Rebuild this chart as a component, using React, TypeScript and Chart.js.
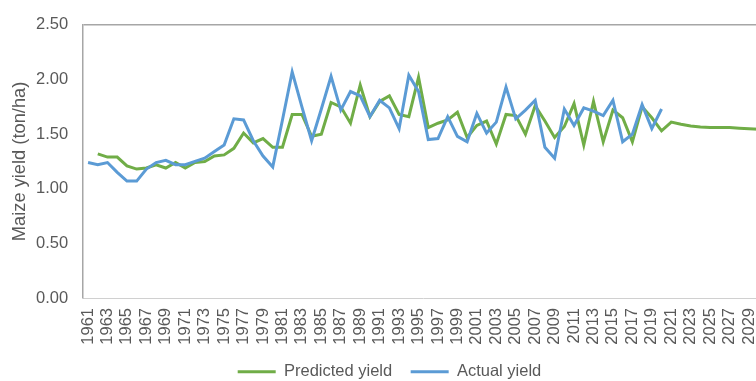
import React, { useEffect, useRef } from "react";
import { Chart, registerables } from "chart.js";

Chart.register(...registerables);

const years: string[] = [
  "1961","1962","1963","1964","1965","1966","1967","1968","1969","1970",
  "1971","1972","1973","1974","1975","1976","1977","1978","1979","1980",
  "1981","1982","1983","1984","1985","1986","1987","1988","1989","1990",
  "1991","1992","1993","1994","1995","1996","1997","1998","1999","2000",
  "2001","2002","2003","2004","2005","2006","2007","2008","2009","2010",
  "2011","2012","2013","2014","2015","2016","2017","2018","2019","2020",
  "2021","2022","2023","2024","2025","2026","2027","2028","2029","2030",
];

// 1961-2020
const actualYield: number[] = [
  1.24, 1.22, 1.24, 1.15, 1.07, 1.07, 1.18, 1.24, 1.26, 1.22,
  1.22, 1.25, 1.28, 1.34, 1.40, 1.64, 1.63, 1.44, 1.30, 1.20,
  1.63, 2.07, 1.75, 1.44, 1.73, 2.03, 1.72, 1.89, 1.85, 1.66,
  1.81, 1.74, 1.55, 2.04, 1.89, 1.45, 1.46, 1.66, 1.48, 1.43,
  1.69, 1.51, 1.61, 1.93, 1.64, 1.72, 1.81, 1.38, 1.28, 1.73,
  1.58, 1.74, 1.71, 1.67, 1.81, 1.43, 1.50, 1.77, 1.55, 1.73,
];

// 1961 (none) then 1962-2030
const predictedYield: (number | null)[] = [
  null, 1.32, 1.29, 1.29, 1.21, 1.18, 1.19, 1.22, 1.19, 1.24,
  1.19, 1.24, 1.25, 1.30, 1.31, 1.37, 1.51, 1.42, 1.46, 1.38,
  1.38, 1.68, 1.68, 1.48, 1.50, 1.79, 1.75, 1.60, 1.95, 1.66,
  1.80, 1.85, 1.68, 1.66, 2.02, 1.56, 1.60, 1.63, 1.70, 1.47,
  1.58, 1.62, 1.41, 1.68, 1.67, 1.50, 1.76, 1.62, 1.47, 1.57,
  1.78, 1.40, 1.80, 1.43, 1.72, 1.65, 1.43, 1.75, 1.65, 1.53,
  1.61, 1.59, 1.575, 1.565, 1.56, 1.56, 1.56, 1.555, 1.55, 1.545,
];

const GREEN = "#70AD47";
const BLUE = "#5B9BD5";
const TEXT = "#595959";
const FONT = "'Liberation Sans', Arial, sans-serif";

const CANVAS_W = 779;
const CANVAS_H = 390;
const PLOT_LEFT = 83.2;
const PLOT_RIGHT = 763.6;

export default function App() {
  const ref = useRef<HTMLCanvasElement | null>(null);

  useEffect(() => {
    if (!ref.current) return;
    const chart = new Chart(ref.current, {
      type: "line",
      data: {
        labels: years,
        datasets: [
          {
            label: "Predicted yield",
            data: predictedYield,
            borderColor: GREEN,
            backgroundColor: GREEN,
            borderWidth: 3,
            pointRadius: 0,
            tension: 0,
            order: 1,
          },
          {
            label: "Actual yield",
            data: actualYield,
            borderColor: BLUE,
            backgroundColor: BLUE,
            borderWidth: 3,
            pointRadius: 0,
            tension: 0,
            order: 0,
          },
        ],
      },
      options: {
        responsive: false,
        animation: false,
        devicePixelRatio: 1,
        layout: { padding: { top: 20, left: 0, right: 0, bottom: 0 } },
        plugins: {
          tooltip: { enabled: false },
          legend: {
            position: "bottom",
            labels: {
              color: TEXT,
              font: { family: FONT, size: 16.5 },
              boxWidth: 38,
              boxHeight: 3,
              padding: 18.5,
              sort: (a: any, b: any) => a.datasetIndex - b.datasetIndex,
              generateLabels: (c: any) =>
                (Chart.defaults.plugins.legend.labels as any)
                  .generateLabels(c)
                  .map((l: any) => ({ ...l, lineWidth: 0 })),
            },
          },
        },
        scales: {
          x: {
            type: "category",
            offset: true,
            grid: { display: true, drawOnChartArea: false, drawTicks: false },
            border: { display: true, color: "#D0D0D0", width: 1 },
            ticks: {
              autoSkip: false,
              maxRotation: 90,
              minRotation: 90,
              padding: 10,
              color: TEXT,
              font: { family: FONT, size: 16.5 },
              callback: function (this: any, _v: any, i: number) {
                return i % 2 === 0 ? years[i] : "";
              },
            },
            afterFit: (s: any) => {
              s.paddingRight = CANVAS_W - PLOT_RIGHT;
              s.paddingLeft = 0;
              s.height = 47;
            },
          },
          y: {
            min: 0,
            max: 2.5,
            grid: {
              drawTicks: false,
              color: (ctx: any) =>
                ctx.tick && Math.abs(ctx.tick.value - 2.5) < 1e-6 ? "#A6A6A6" : "rgba(0,0,0,0)",
              lineWidth: 1.5,
            },
            border: { display: true, color: "#A6A6A6", width: 1.5 },
            ticks: {
              stepSize: 0.5,
              padding: 15,
              color: TEXT,
              font: { family: FONT, size: 16.5 },
              callback: (v: any) => Number(v).toFixed(2),
            },
            title: {
              display: true,
              text: "Maize yield (ton/ha)",
              color: TEXT,
              font: { family: FONT, size: 18.3 },
              padding: { top: 8.7, bottom: 0 },
            },
            afterFit: (s: any) => {
              s.width = PLOT_LEFT;
            },
          },
        },
      },
    });
    return () => chart.destroy();
  }, []);

  return (
    <div
      style={{
        position: "fixed",
        left: 0,
        top: 0,
        width: 756,
        height: 381,
        overflow: "hidden",
        background: "#fff",
      }}
    >
      <canvas ref={ref} width={CANVAS_W} height={CANVAS_H} style={{ display: "block" }} />
    </div>
  );
}
